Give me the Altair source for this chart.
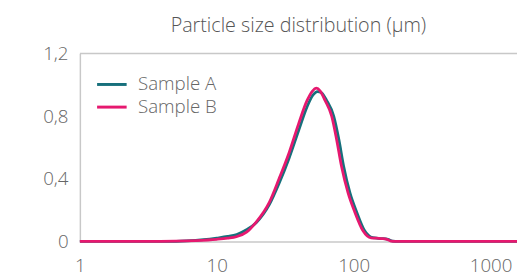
import altair as alt
import pandas as pd

size_b = [1, 3, 5, 7, 10, 12, 13.9, 16.5, 19.4, 24.2, 28.5, 33.7, 39.7, 45.7, 50, 53.3, 57, 61.8, 69.1, 75.1, 81.5, 91, 101.7, 116.7, 134, 158, 175, 187, 210, 1560]
val_b = [0, 0, 0.002, 0.006, 0.014, 0.021, 0.03, 0.06, 0.124, 0.25, 0.40, 0.565, 0.754, 0.90, 0.96, 0.978, 0.96, 0.90, 0.80, 0.65, 0.48, 0.31, 0.19, 0.07, 0.023, 0.019, 0.014, 0.002, 0, 0]

size_a = [1, 4.5, 6, 8, 10, 12, 14, 16.5, 19.4, 24.2, 28.5, 33.7, 39.7, 45.7, 50, 54.5, 58, 63.5, 71.5, 78, 84.5, 94, 105, 120, 138, 160, 178, 192, 215, 1560]
val_a = [0, 0, 0.004, 0.012, 0.022, 0.032, 0.045, 0.075, 0.12, 0.235, 0.37, 0.53, 0.71, 0.86, 0.93, 0.957, 0.95, 0.90, 0.80, 0.65, 0.48, 0.31, 0.19, 0.07, 0.024, 0.019, 0.014, 0.003, 0, 0]

series = ["Sample A", "Sample B"]
colors = ["#17707c", "#e6186f"]
x_ticks = [1, 10, 100, 1000]
y_ticks = [0, 0.4, 0.8, 1.2]

df = pd.concat([
    pd.DataFrame({"size": size_a, "value": val_a, "series": series[0], "order": range(len(size_a))}),
    pd.DataFrame({"size": size_b, "value": val_b, "series": series[1], "order": range(len(size_b))}),
])

FONT = "Open Sans"

lines = alt.Chart(df).mark_line(strokeWidth=2.8, interpolate="monotone").encode(
    x=alt.X("size:Q",
            scale=alt.Scale(type="log", domain=[1, 1560], nice=False),
            axis=alt.Axis(values=x_ticks, format="d", title=None, grid=False, ticks=False,
                          domainColor="#c8c8c8", domainWidth=1.5, labelPadding=15,
                          labelFontSize=19, labelColor="#666666", labelFont=FONT,
                          labelFontWeight=300, labelFlush=False)),
    y=alt.Y("value:Q",
            scale=alt.Scale(domain=[0, 1.2], nice=False),
            axis=alt.Axis(values=y_ticks, title=None, grid=False, ticks=False,
                          domainColor="#c8c8c8", domainWidth=1.5, labelPadding=12,
                          labelExpr="datum.value == 0 ? '0' : replace(format(datum.value, '.1f'), '.', ',')",
                          labelFontSize=19, labelColor="#666666", labelFont=FONT,
                          labelFontWeight=300)),
    color=alt.Color("series:N",
                    scale=alt.Scale(domain=series, range=colors),
                    legend=alt.Legend(title=None, orient="none", legendX=20, legendY=19,
                                      symbolType="M-1.364,0L1.364,0", symbolSize=484,
                                      symbolStrokeWidth=3,
                                      labelFontSize=19, labelFont=FONT, labelFontWeight=300,
                                      labelColor="#666666", rowPadding=0, labelOffset=14,
                                      padding=0)),
    order="order:Q",
)

top = alt.Chart(pd.DataFrame({"y": [y_ticks[-1]]})).mark_rule(color="#c8c8c8", strokeWidth=1.5).encode(
    y="y:Q"
)

chart = alt.layer(top, lines).properties(
    width=444, height=191,
    title=alt.TitleParams("Particle size distribution (µm)", font=FONT, fontSize=20,
                          fontWeight=300, color="#555555", offset=9, anchor="middle"),
    autosize=alt.AutoSizeParams(type="none"),
    padding={"left": 73, "top": 44, "right": 0, "bottom": 40},
).configure_view(stroke=None)

chart.save("out.html", embed_options={"renderer": "svg", "actions": False})
